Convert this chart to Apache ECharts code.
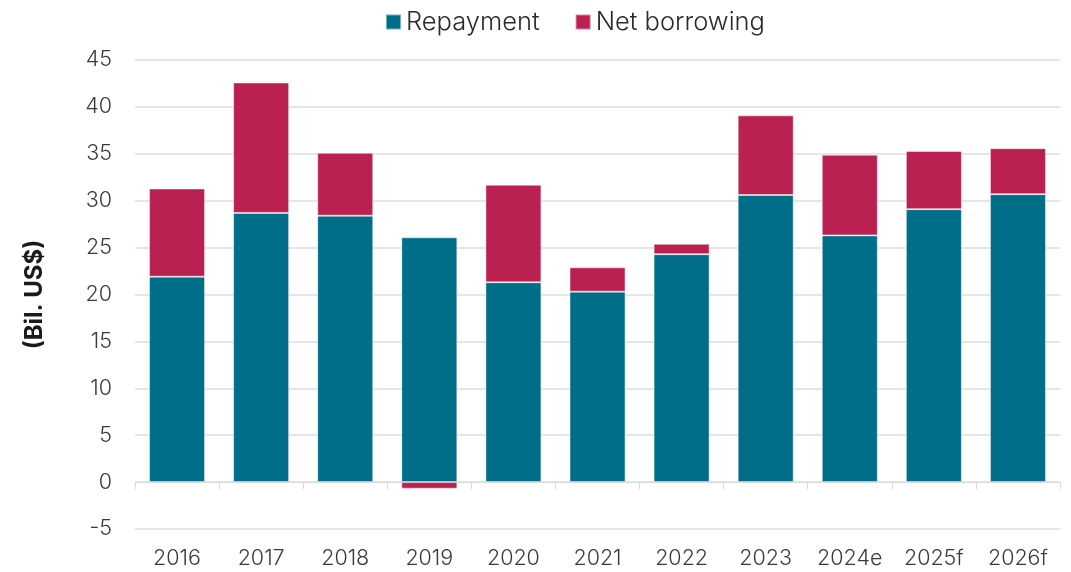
<!DOCTYPE html>
<html>
<head>
<meta charset="utf-8">
<script src="https://cdn.jsdelivr.net/npm/echarts@6/dist/echarts.min.js"></script>
<style>
  html, body { margin: 0; padding: 0; background: #fff; }
  #chart { width: 1071px; height: 572px; }
</style>
</head>
<body>
<div id="chart"></div>
<script>
// Years on the horizontal axis (e = estimate, f = forecast)
const categories = ['2016', '2017', '2018', '2019', '2020', '2021', '2022', '2023', '2024e', '2025f', '2026f'];
// Billions of US$
const repayment = [21.9, 28.7, 28.4, 26.1, 21.3, 20.3, 24.3, 30.6, 26.3, 29.1, 30.7];
const netBorrowing = [9.4, 13.9, 6.7, -0.7, 10.4, 2.6, 1.1, 8.5, 8.6, 6.2, 4.9];

const font = 'Inter, "Noto Sans", sans-serif';
const textColor = '#3a3a3a';

const chart = echarts.init(document.getElementById('chart'), null, { renderer: 'canvas' });
chart.setOption({
  animation: false,
  textStyle: { fontFamily: font },
  grid: { left: 135, right: 11, top: 60, bottom: 43, containLabel: false },
  legend: {
    top: 4,
    left: 380,
    itemWidth: 15,
    itemHeight: 15,
    itemGap: 35,
    icon: 'rect',
    textStyle: { fontFamily: font, fontSize: 25.5, fontWeight: 300, color: '#2a2a2a', padding: [0, 0, 0, 0] },
    data: ['Repayment', 'Net borrowing']
  },
  xAxis: [
    {
      // category labels along the bottom edge
      type: 'category',
      data: categories,
      axisLine: { show: false, onZero: false },
      axisTick: { show: false },
      axisLabel: { interval: 0, fontFamily: font, fontSize: 21.5, fontWeight: 300, color: textColor, margin: 19 }
    },
    {
      // baseline at zero with ticks between categories
      type: 'category',
      data: categories,
      position: 'bottom',
      axisLine: { show: true, onZero: true, lineStyle: { color: '#d9d9d9', width: 1 } },
      axisTick: { show: true, interval: 0, length: 7, lineStyle: { color: '#d9d9d9' } },
      axisLabel: { show: false }
    }
  ],
  yAxis: {
    type: 'value',
    min: -5,
    max: 45,
    interval: 5,
    name: '(Bil. US$)',
    nameLocation: 'middle',
    nameGap: 88,
    nameTextStyle: { fontFamily: font, fontSize: 24, fontWeight: 'bold', color: '#1a1a1a' },
    axisLine: { show: false },
    axisTick: { show: false },
    axisLabel: { fontFamily: font, fontSize: 21.5, fontWeight: 300, color: textColor, margin: 23 },
    splitLine: { lineStyle: { color: '#e6e6e6', width: 2 } }
  },
  series: [
    {
      name: 'Repayment',
      type: 'bar',
      stack: 'total',
      barWidth: 56,
      data: repayment,
      itemStyle: { color: '#006E88', borderColor: 'rgba(255,255,255,0.45)', borderWidth: 1 }
    },
    {
      name: 'Net borrowing',
      type: 'bar',
      stack: 'total',
      barWidth: 56,
      data: netBorrowing,
      itemStyle: { color: '#BA2050', borderColor: 'rgba(255,255,255,0.45)', borderWidth: 1 }
    }
  ]
});
</script>
</body>
</html>
